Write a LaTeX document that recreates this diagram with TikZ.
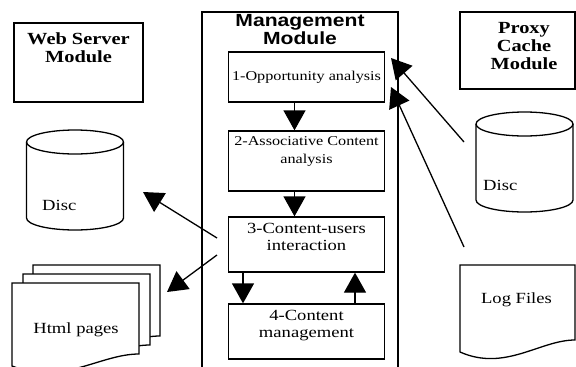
\documentclass[tikz,border=0pt]{standalone}
\usepackage{fontspec}
\setmainfont{Liberation Serif}[FakeStretch=1.2]
\newfontfamily\headfont{Liberation Sans}[FakeStretch=1.2]
\usetikzlibrary{arrows.meta,positioning}

\begin{document}
\begin{tikzpicture}[x=1pt, y=-1pt,
    modbox/.style={draw, line width=1.3pt, minimum width=156pt, inner sep=0pt},
    frame/.style={draw, line width=1.3pt, inner sep=0pt},
    arr/.style={line width=1.3pt, -{Triangle[length=20pt,width=22pt]}},
    txtsmall/.style={inner sep=0pt, align=center, font=\fontsize{13.5}{18}\selectfont},
    txtbig/.style={inner sep=0pt, align=center, font=\fontsize{15.5}{16.5}\selectfont},
    headtxt/.style={inner sep=0pt, align=center, font=\fontsize{17}{18}\selectfont\bfseries},
    lbl/.style={inner sep=0pt, font=\fontsize{15.5}{16.5}\selectfont}]
    \useasboundingbox (0,0) rectangle (576,367);
    \clip (0,0) rectangle (576,367);

    % Management-Modul
    \draw[line width=1.3pt] (202,375) -- (202,12) -- (398,12) -- (398,375);
    \node[anchor=north, inner sep=0pt, align=center,
        font=\headfont\fontsize{17.6}{18}\selectfont\bfseries] (mgmt) at (300,14) {Management\\Module};

    \node[modbox, minimum height=50pt, txtsmall] (opp) at (306.5,77) {1-Opportunity analysis};
    \node[modbox, minimum height=60pt] (assoc) at (306.5,161) {};
    \node[txtsmall, below=6pt of assoc.north] (assoctxt) {2-Associative Content\\analysis};
    \node[modbox, minimum height=55pt] (inter) at (306.5,244.5) {};
    \node[txtbig, below=7pt of inter.north] (intertxt) {3-Content-users\\interaction};
    \node[modbox, minimum height=55pt] (manage) at (306.5,331.5) {};
    \node[txtbig, below=7pt of manage.north] (managetxt) {4-Content\\management};

    \draw[arr] ([xshift=-12pt]opp.south) -- ([xshift=-12pt]assoc.north);
    \draw[arr] ([xshift=-12pt]assoc.south) -- ([xshift=-12pt]inter.north);
    \draw[arr] ([xshift=-63.5pt]inter.south) -- ([xshift=-63.5pt]manage.north);
    \draw[arr] ([xshift=48.5pt]manage.north) -- ([xshift=48.5pt]inter.south);

    % Web Server / Proxy
    \node[frame, minimum width=129pt, minimum height=79pt] (web) at (78.5,62.5) {};
    \node[headtxt, below=10pt of web.north] (webtxt) {Web Server\\Module};
    \node[frame, minimum width=115pt, minimum height=77pt] (proxy) at (517.5,50.5) {};
    \node[headtxt, anchor=north] (proxytxt) at ([xshift=6.5pt,yshift=-11pt]proxy.north) {Proxy\\Cache\\Module};

    % Discs
    \foreach \cx/\cy in {75/142, 524.5/124} {
        \draw[line width=1.3pt] (\cx,\cy) ellipse [x radius=48.5, y radius=12];
        \draw[line width=1.3pt] (\cx-48.5,\cy) -- (\cx-48.5,\cy+76)
            arc[start angle=180, end angle=0, x radius=48.5, y radius=12] -- (\cx+48.5,\cy);
    }
    \node[lbl, anchor=base west] (discL) at (42,210) {Disc};
    \node[lbl, anchor=base west] (discR) at (483,190) {Disc};

    % Html-Seiten
    \foreach \sx/\sy in {33/265, 23/274, 12/283}
        \draw[line width=1.3pt, fill=white, shift={(\sx,\sy)}] (0,0) -- (127,0) -- (127,71)
            .. controls (88,71) and (50,103) .. (0,83) -- cycle;
    \node[lbl, anchor=base] (html) at (76,333) {Html pages};

    % Log-Dateien
    \draw[line width=1.3pt, shift={(460,265)}] (0,0) -- (115,0) -- (115,75)
        .. controls (80,75) and (45,107) .. (0,87) -- cycle;
    \node[lbl, anchor=base] (logs) at (516.5,303) {Log Files};

    % Pfeile
    \coordinate (interout) at (217,238);
    \coordinate (interoutb) at (217,255);
    \coordinate (disctip) at (143,192);
    \coordinate (htmltip) at (167,292);
    \coordinate (discout) at (464,142);
    \coordinate (logout) at (464,247);
    \coordinate (opptip) at (391,58);
    \coordinate (opptipb) at (391,87);
    \draw[arr] (interout) -- (disctip);
    \draw[arr] (interoutb) -- (htmltip);
    \draw[arr] (discout) -- (opptip);
    \draw[arr] (logout) -- (opptipb);
\end{tikzpicture}
\end{document}
